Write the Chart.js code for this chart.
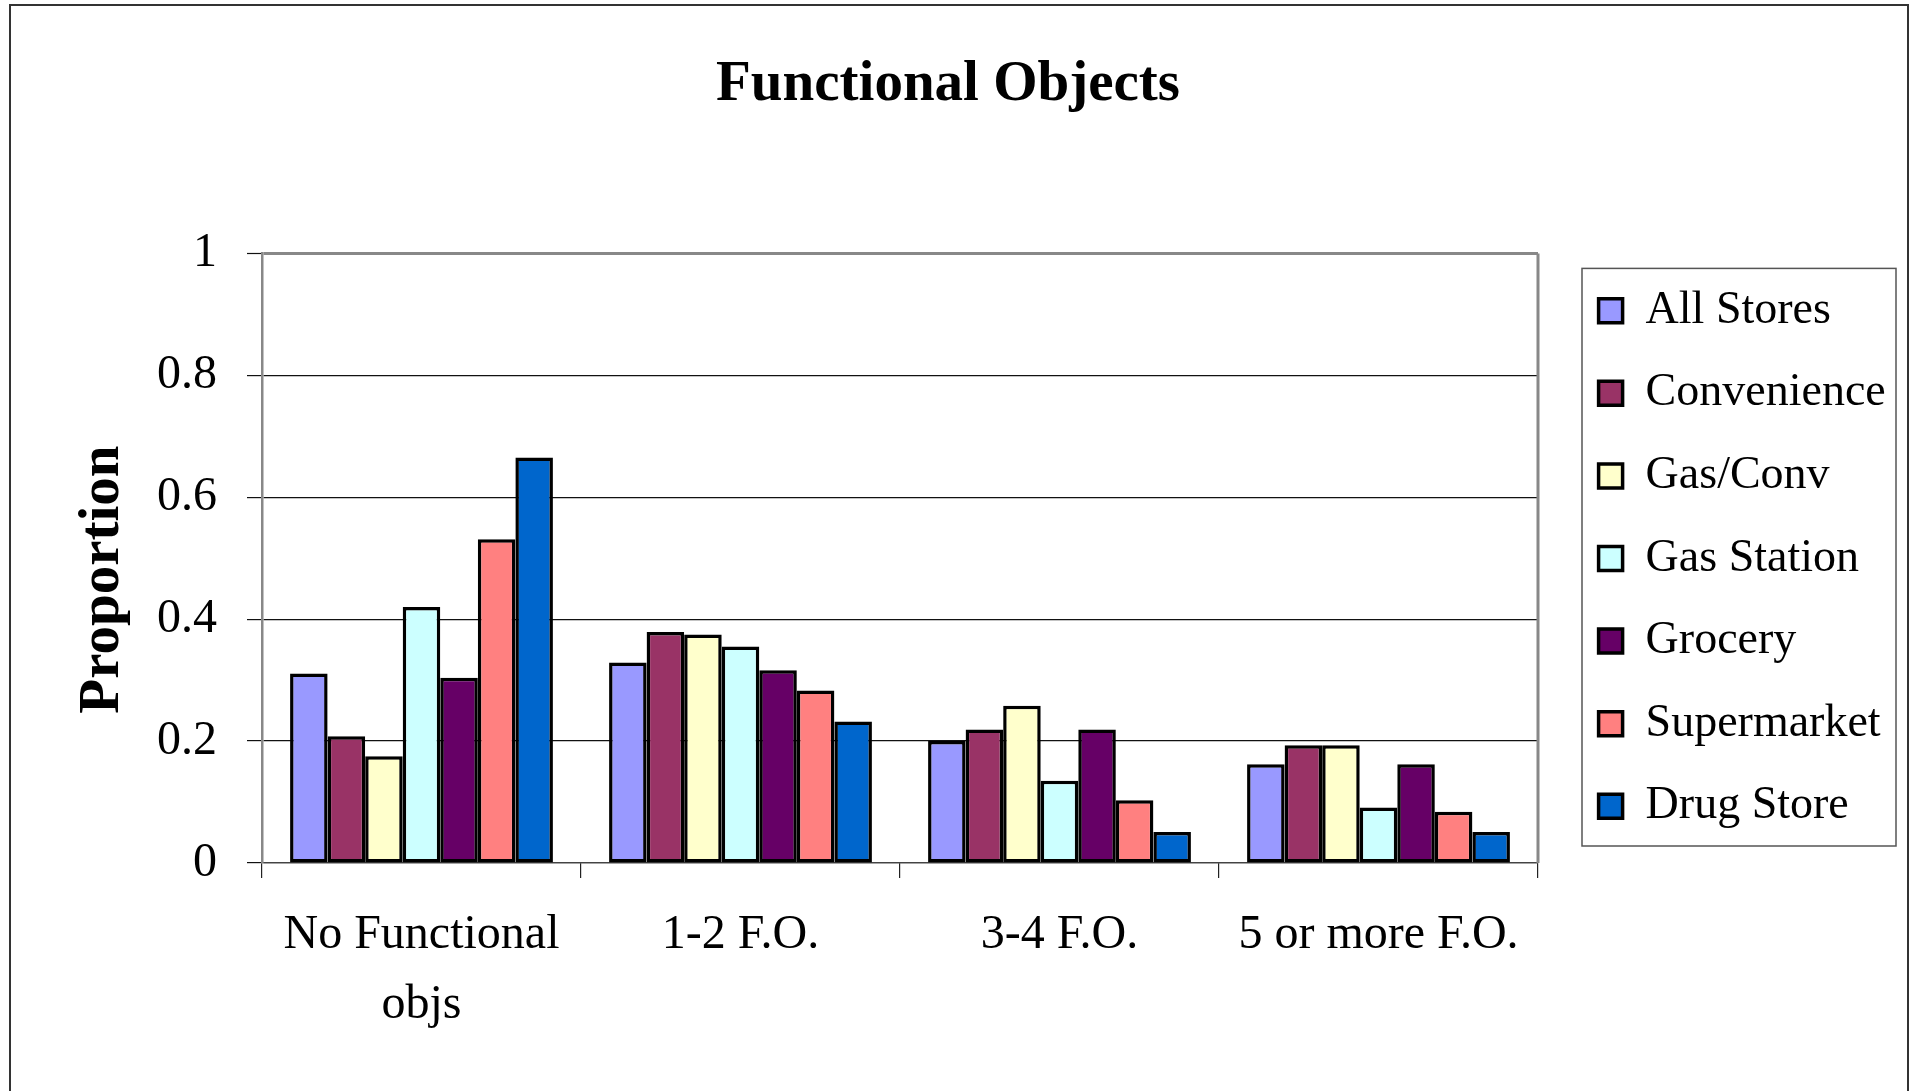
<!DOCTYPE html>
<html><head><meta charset="utf-8">
<script src="https://cdn.jsdelivr.net/npm/chart.js@4.4.1/dist/chart.umd.min.js"></script>
<style>html,body{margin:0;padding:0;background:#fff;}canvas{display:block}</style>
</head><body>
<canvas id="c" width="1914" height="1091"></canvas>
<script>
const categories = [["No Functional", "objs"], "1-2 F.O.", "3-4 F.O.", "5 or more F.O."];
const seriesNames = ["All Stores", "Convenience", "Gas/Conv", "Gas Station", "Grocery", "Supermarket", "Drug Store"];
const allStores   = [0.311, 0.329, 0.200, 0.162];
const convenience = [0.208, 0.379, 0.219, 0.193];
const gasConv     = [0.175, 0.375, 0.258, 0.193];
const gasStation  = [0.420, 0.355, 0.135, 0.091];
const grocery     = [0.304, 0.316, 0.219, 0.162];
const supermarket = [0.531, 0.283, 0.103, 0.084];
const drugStore   = [0.665, 0.232, 0.051, 0.051];
const seriesColors = ["#9999FF", "#993366", "#FFFFCC", "#CCFFFF", "#660066", "#FF8080", "#0066CC"];
const yTicks = [0, 0.2, 0.4, 0.6, 0.8, 1];
const yTickLabels = ["0", "0.2", "0.4", "0.6", "0.8", "1"];

const seriesValues = [allStores, convenience, gasConv, gasStation, grocery, supermarket, drugStore];
const FONT = "'Liberation Serif', 'DejaVu Serif', serif";

const framePlugin = {
  id: 'frame',
  beforeUpdate(chart) {
    const lg = chart.legend;
    if (lg && !lg._patched) {
      const orig = lg.fit.bind(lg);
      lg.fit = function () { orig(); this.width = 358; };
      lg._patched = true;
    }
  },
  afterLayout(chart) {
    const lg = chart.legend;
    if (lg) { lg.left += 24; lg.top += 13; lg.bottom += 13; }
  },
  beforeDraw(chart) {
    const ctx = chart.ctx, a = chart.chartArea;
    ctx.save();
    ctx.fillStyle = '#fff';
    ctx.fillRect(0, 0, chart.width, chart.height);
    ctx.strokeStyle = '#333';
    ctx.lineWidth = 2;
    ctx.beginPath();
    ctx.moveTo(10, chart.height + 5); ctx.lineTo(10, 5); ctx.lineTo(1908, 5); ctx.lineTo(1908, chart.height + 5);
    ctx.stroke();
    ctx.strokeStyle = '#555';
    ctx.lineWidth = 1.5;
    const fx = a.right + 44, fy = a.top + 15;
    ctx.strokeRect(fx, fy, 1896 - fx, (a.bottom - 17) - fy);
    ctx.restore();
  },
  afterDraw(chart) {
    const a = chart.chartArea, ctx = chart.ctx;
    ctx.save();
    ctx.strokeStyle = '#888';
    ctx.lineWidth = 3;
    ctx.beginPath();
    ctx.moveTo(a.right, a.top); ctx.lineTo(a.right, a.bottom);
    ctx.stroke();
    ctx.restore();
  }
};

new Chart(document.getElementById('c'), {
  type: 'bar',
  data: {
    labels: categories,
    datasets: seriesNames.map((n, i) => ({
      label: n,
      data: seriesValues[i],
      backgroundColor: seriesColors[i],
      borderColor: '#000',
      borderWidth: 3.5,
      borderSkipped: false,
      categoryPercentage: 0.824,
      barPercentage: 1.0
    }))
  },
  options: {
    responsive: false,
    animation: false,
    devicePixelRatio: 1,
    layout: { padding: { left: 0, right: 18, top: 0, bottom: 0 } },
    plugins: {
      title: {
        display: true,
        text: 'Functional Objects',
        color: '#000',
        font: { family: FONT, size: 57, weight: 'bold' },
        padding: { top: 51, bottom: 134 }
      },
      legend: {
        position: 'right',
        fullSize: true,
        align: 'center',
        labels: {
          color: '#000',
          font: { family: FONT, size: 46 },
          boxWidth: 24,
          boxHeight: 24,
          padding: 36.6
        }
      },
      tooltip: { enabled: false }
    },
    scales: {
      x: {
        offset: true,
        grid: { display: true, drawOnChartArea: false, offset: true, tickLength: 15, color: '#222', lineWidth: 1.2 },
        border: { display: true, color: '#444', width: 1.2 },
        ticks: { color: '#000', font: { family: FONT, size: 48, lineHeight: 1.45 }, padding: 23, maxRotation: 0, autoSkip: false },
        afterFit(scale) { scale.height = 228; }
      },
      y: {
        min: 0, max: 1,
        afterBuildTicks(scale) { scale.ticks = yTicks.map(v => ({ value: v })); },
        grid: {
          color: (c) => (c.tick && c.tick.value === 1) ? '#888' : '#111',
          lineWidth: (c) => (c.tick && c.tick.value === 1) ? 3 : 1.2,
          tickLength: 15,
          tickColor: '#111',
          tickWidth: 1.2
        },
        border: { display: true, color: '#888', width: 2.5 },
        ticks: {
          color: '#000', font: { family: FONT, size: 48 }, padding: 30,
          callback: (v) => yTickLabels[yTicks.indexOf(v)] ?? String(v)
        },
        title: {
          display: true,
          text: 'Proportion   ',
          color: '#000',
          font: { family: FONT, size: 57, weight: 'bold' },
          padding: { top: 69, bottom: 0 }
        },
        afterFit(scale) { scale.width = 262; }
      }
    }
  },
  plugins: [framePlugin]
});
</script>
</body></html>
